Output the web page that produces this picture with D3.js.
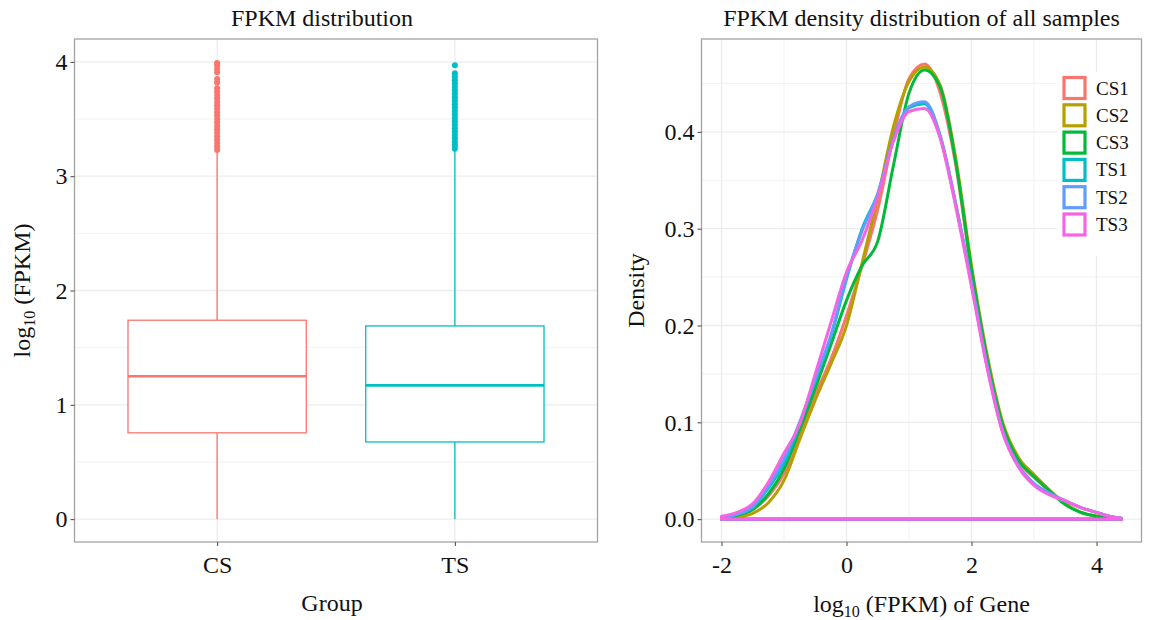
<!DOCTYPE html>
<html>
<head>
<meta charset="utf-8">
<script src="https://cdn.jsdelivr.net/npm/d3@7"></script>
<style>
  body { margin: 0; background: #fff; }
  text { font-family: "Liberation Serif", "DejaVu Serif", serif; fill: #111; }
  .grid { stroke: #ececec; }
</style>
</head>
<body>
<div id="chart"></div>
<script>
// box plot data (log10 FPKM)
var groups = ["CS", "TS"];
var groupColors = ["#F8766D", "#00BFC4"];
var whiskerLow = [0, 0];
var q1 = [0.755, 0.675];
var medians = [1.25, 1.17];
var q3 = [1.74, 1.69];
var whiskerHigh = [3.21, 3.22];
var outliersCS = [3.23, 3.26, 3.29, 3.32, 3.35, 3.38, 3.41, 3.44, 3.47, 3.50, 3.53, 3.56, 3.59,
                  3.62, 3.65, 3.68, 3.71, 3.74, 3.77, 3.82, 3.85, 3.91, 3.94, 3.97, 3.99];
var outliersTS = [3.24, 3.27, 3.30, 3.33, 3.36, 3.39, 3.42, 3.45, 3.48, 3.51, 3.54, 3.57, 3.60,
                  3.63, 3.66, 3.69, 3.72, 3.75, 3.78, 3.81, 3.84, 3.87, 3.90, 3.97];
var boxTicks = [0, 1, 2, 3, 4];

// density data
var samples = ["CS1", "CS2", "CS3", "TS1", "TS2", "TS3"];
var sampleColors = ["#F8766D", "#B79F00", "#00BA38", "#00BFC4", "#619CFF", "#F564E3"];
var densX = [-2, -1.75, -1.5, -1.25, -1, -0.75, -0.5, -0.25, 0, 0.25, 0.5, 0.75, 1, 1.25, 1.5,
             1.75, 2, 2.25, 2.5, 2.75, 3, 3.25, 3.5, 3.75, 4, 4.2, 4.4];
var densCS1 = [0.001, 0.004, 0.010, 0.024, 0.047, 0.085, 0.128, 0.165, 0.210, 0.262, 0.320, 0.395, 0.455, 0.470, 0.440,
               0.365, 0.255, 0.166, 0.097, 0.060, 0.043, 0.029, 0.016, 0.007, 0.003, 0.001, 0.000];
var densCS2 = [0.001, 0.002, 0.006, 0.017, 0.040, 0.082, 0.123, 0.160, 0.200, 0.265, 0.332, 0.405, 0.452, 0.467, 0.448,
               0.372, 0.262, 0.170, 0.100, 0.064, 0.046, 0.030, 0.016, 0.007, 0.003, 0.001, 0.000];
var densCS3 = [0.001, 0.004, 0.010, 0.026, 0.052, 0.092, 0.135, 0.180, 0.226, 0.262, 0.287, 0.365, 0.440, 0.464, 0.446,
               0.368, 0.258, 0.166, 0.097, 0.061, 0.044, 0.029, 0.015, 0.007, 0.003, 0.001, 0.000];
var densTS1 = [0.002, 0.005, 0.012, 0.032, 0.058, 0.098, 0.143, 0.188, 0.248, 0.300, 0.336, 0.392, 0.425, 0.429, 0.395,
               0.325, 0.243, 0.158, 0.090, 0.055, 0.036, 0.026, 0.019, 0.012, 0.007, 0.003, 0.001];
var densTS2 = [0.002, 0.005, 0.013, 0.034, 0.062, 0.100, 0.145, 0.190, 0.250, 0.298, 0.335, 0.392, 0.426, 0.431, 0.396,
               0.325, 0.244, 0.159, 0.091, 0.056, 0.037, 0.027, 0.019, 0.012, 0.007, 0.003, 0.001];
var densTS3 = [0.003, 0.007, 0.016, 0.038, 0.068, 0.098, 0.150, 0.203, 0.255, 0.288, 0.333, 0.390, 0.421, 0.424, 0.393,
               0.322, 0.240, 0.156, 0.089, 0.054, 0.035, 0.025, 0.019, 0.012, 0.007, 0.003, 0.001];
var densSeries = [densCS1, densCS2, densCS3, densTS1, densTS2, densTS3];
var densXTicks = [-2, 0, 2, 4];
var densXMinor = [-1, 1, 3];
var densYTicks = [0, 0.1, 0.2, 0.3, 0.4];
var densYMinor = [0.05, 0.15, 0.25, 0.35, 0.45];

var svg = d3.select("#chart").append("svg")
  .attr("width", 1149)
  .attr("height", 620);
svg.append("rect").attr("width", 1149).attr("height", 620).attr("fill", "#fff");

BoxPanel();
DensityPanel();

function BoxPanel() {
  var left = 74.5, right = 597.5, top = 39, bottom = 542;
  var x = d3.scalePoint().domain(groups).range([left, right]).padding(0.6);
  var y = d3.scaleLinear().domain([-0.2, 4.2]).range([bottom, top]);
  var boxW = x.step() * 0.75;
  var g = svg.append("g");

  // grid lines
  var minors = [0.5, 1.5, 2.5, 3.5];
  g.selectAll(".ymin").data(minors).enter().append("line").attr("class", "grid")
    .attr("x1", left).attr("x2", right).attr("y1", d => y(d)).attr("y2", d => y(d)).attr("stroke-width", 0.7);
  g.selectAll(".ymaj").data(boxTicks).enter().append("line").attr("class", "grid")
    .attr("x1", left).attr("x2", right).attr("y1", d => y(d)).attr("y2", d => y(d)).attr("stroke-width", 1.3);
  g.selectAll(".xmaj").data(groups).enter().append("line").attr("class", "grid")
    .attr("y1", top).attr("y2", bottom).attr("x1", d => x(d)).attr("x2", d => x(d)).attr("stroke-width", 1.3);

  // boxes
  groups.forEach(function(grp, i) {
    var cx = x(grp), col = groupColors[i];
    g.append("line").attr("x1", cx).attr("x2", cx).attr("y1", y(whiskerLow[i])).attr("y2", y(q1[i]))
      .attr("stroke", col).attr("stroke-width", 1.3);
    g.append("line").attr("x1", cx).attr("x2", cx).attr("y1", y(q3[i])).attr("y2", y(whiskerHigh[i]))
      .attr("stroke", col).attr("stroke-width", 1.3);
    g.append("rect").attr("x", cx - boxW / 2).attr("width", boxW)
      .attr("y", y(q3[i])).attr("height", y(q1[i]) - y(q3[i]))
      .attr("fill", "#fff").attr("stroke", col).attr("stroke-width", 1.3);
    g.append("line").attr("x1", cx - boxW / 2).attr("x2", cx + boxW / 2)
      .attr("y1", y(medians[i])).attr("y2", y(medians[i]))
      .attr("stroke", col).attr("stroke-width", 2.6);
    var outs = i == 0 ? outliersCS : outliersTS;
    g.selectAll(".out" + i).data(outs).enter().append("circle")
      .attr("cx", cx).attr("cy", d => y(d)).attr("r", 3).attr("fill", col);
  });

  // border
  g.append("rect").attr("x", left).attr("y", top).attr("width", right - left).attr("height", bottom - top)
    .attr("fill", "none").attr("stroke", "#a3a3a3").attr("stroke-width", 1.3);

  // axes
  var yAxis = d3.axisLeft(y).tickValues(boxTicks).tickSize(4).tickPadding(3).tickFormat(d3.format("d"));
  var ya = g.append("g").attr("transform", "translate(" + left + ",0)").call(yAxis);
  var xAxis = d3.axisBottom(x).tickSize(4).tickPadding(4);
  var xa = g.append("g").attr("transform", "translate(0," + bottom + ")").call(xAxis);
  [ya, xa].forEach(function(a) {
    a.select(".domain").remove();
    a.selectAll(".tick line").attr("stroke", "#444");
    a.selectAll(".tick text").attr("font-size", 24).attr("fill", "#111")
      .attr("font-family", "Liberation Serif, serif");
  });
  xa.selectAll(".tick text").attr("dy", "0.95em");

  svg.append("text").attr("x", 322).attr("y", 26).attr("text-anchor", "middle")
    .attr("font-size", 24).text("FPKM distribution");
  svg.append("text").attr("x", 332).attr("y", 611).attr("text-anchor", "middle")
    .attr("font-size", 24).text("Group");
  var yl = svg.append("text").attr("transform", "translate(30," + (top + bottom) / 2 + ") rotate(-90)")
    .attr("text-anchor", "middle").attr("font-size", 24);
  yl.append("tspan").text("log");
  yl.append("tspan").attr("font-size", 16).attr("dy", 5).text("10");
  yl.append("tspan").attr("dy", -5).text(" (FPKM)");
}

function DensityPanel() {
  var left = 701.5, right = 1141.5, top = 39, bottom = 542;
  var x = d3.scaleLinear().domain([-2.32, 4.72]).range([left, right]);
  var y = d3.scaleLinear().domain([-0.0236, 0.4959]).range([bottom, top]);
  var g = svg.append("g");

  // grid lines
  g.selectAll(".ymin").data(densYMinor).enter().append("line").attr("class", "grid")
    .attr("x1", left).attr("x2", right).attr("y1", d => y(d)).attr("y2", d => y(d)).attr("stroke-width", 0.7);
  g.selectAll(".xmin").data(densXMinor).enter().append("line").attr("class", "grid")
    .attr("y1", top).attr("y2", bottom).attr("x1", d => x(d)).attr("x2", d => x(d)).attr("stroke-width", 0.7);
  g.selectAll(".ymaj").data(densYTicks).enter().append("line").attr("class", "grid")
    .attr("x1", left).attr("x2", right).attr("y1", d => y(d)).attr("y2", d => y(d)).attr("stroke-width", 1.3);
  g.selectAll(".xmaj").data(densXTicks).enter().append("line").attr("class", "grid")
    .attr("y1", top).attr("y2", bottom).attr("x1", d => x(d)).attr("x2", d => x(d)).attr("stroke-width", 1.3);

  // density outlines (closed to baseline like geom_density)
  var area = d3.area()
    .x(function(d, i) { return x(densX[i]); })
    .y0(y(0))
    .y1(function(d) { return y(d); })
    .curve(d3.curveMonotoneX);
  densSeries.forEach(function(s, i) {
    g.append("path").datum(s).attr("d", area)
      .attr("fill", "none").attr("stroke", sampleColors[i]).attr("stroke-width", 3)
      .attr("stroke-linejoin", "round");
  });

  // legend
  var lg = g.append("g");
  lg.append("rect").attr("x", 1057).attr("y", 72).attr("width", 84).attr("height", 184).attr("fill", "#fff");
  samples.forEach(function(s, i) {
    var cy = 88 + i * 27.3;
    lg.append("rect").attr("x", 1064).attr("y", cy - 10.5).attr("width", 21).attr("height", 21)
      .attr("fill", "#fff").attr("stroke", sampleColors[i]).attr("stroke-width", 3.2);
    lg.append("text").attr("x", 1096).attr("y", cy + 6.5).attr("font-size", 19).text(s);
  });

  // border
  g.append("rect").attr("x", left).attr("y", top).attr("width", right - left).attr("height", bottom - top)
    .attr("fill", "none").attr("stroke", "#a3a3a3").attr("stroke-width", 1.3);

  // axes
  var yAxis = d3.axisLeft(y).tickValues(densYTicks).tickSize(4).tickPadding(3).tickFormat(d3.format(".1f"));
  var ya = g.append("g").attr("transform", "translate(" + left + ",0)").call(yAxis);
  var xAxis = d3.axisBottom(x).tickValues(densXTicks).tickSize(4).tickPadding(4).tickFormat(d3.format("d"));
  var xa = g.append("g").attr("transform", "translate(0," + bottom + ")").call(xAxis);
  [ya, xa].forEach(function(a) {
    a.select(".domain").remove();
    a.selectAll(".tick line").attr("stroke", "#444");
    a.selectAll(".tick text").attr("font-size", 24).attr("fill", "#111")
      .attr("font-family", "Liberation Serif, serif");
  });
  xa.selectAll(".tick text").attr("dy", "0.95em").text(function(d) { return d < 0 ? "-" + Math.abs(d) : d; });

  svg.append("text").attr("x", (left + right) / 2).attr("y", 26).attr("text-anchor", "middle")
    .attr("font-size", 24).text("FPKM density distribution of all samples");
  var xl = svg.append("text").attr("x", (left + right) / 2).attr("y", 612).attr("text-anchor", "middle")
    .attr("font-size", 24);
  xl.append("tspan").text("log");
  xl.append("tspan").attr("font-size", 16).attr("dy", 5).text("10");
  xl.append("tspan").attr("dy", -5).text(" (FPKM) of Gene");
  svg.append("text").attr("transform", "translate(644," + (top + bottom) / 2 + ") rotate(-90)")
    .attr("text-anchor", "middle").attr("font-size", 24).text("Density");
}
</script>
</body>
</html>
